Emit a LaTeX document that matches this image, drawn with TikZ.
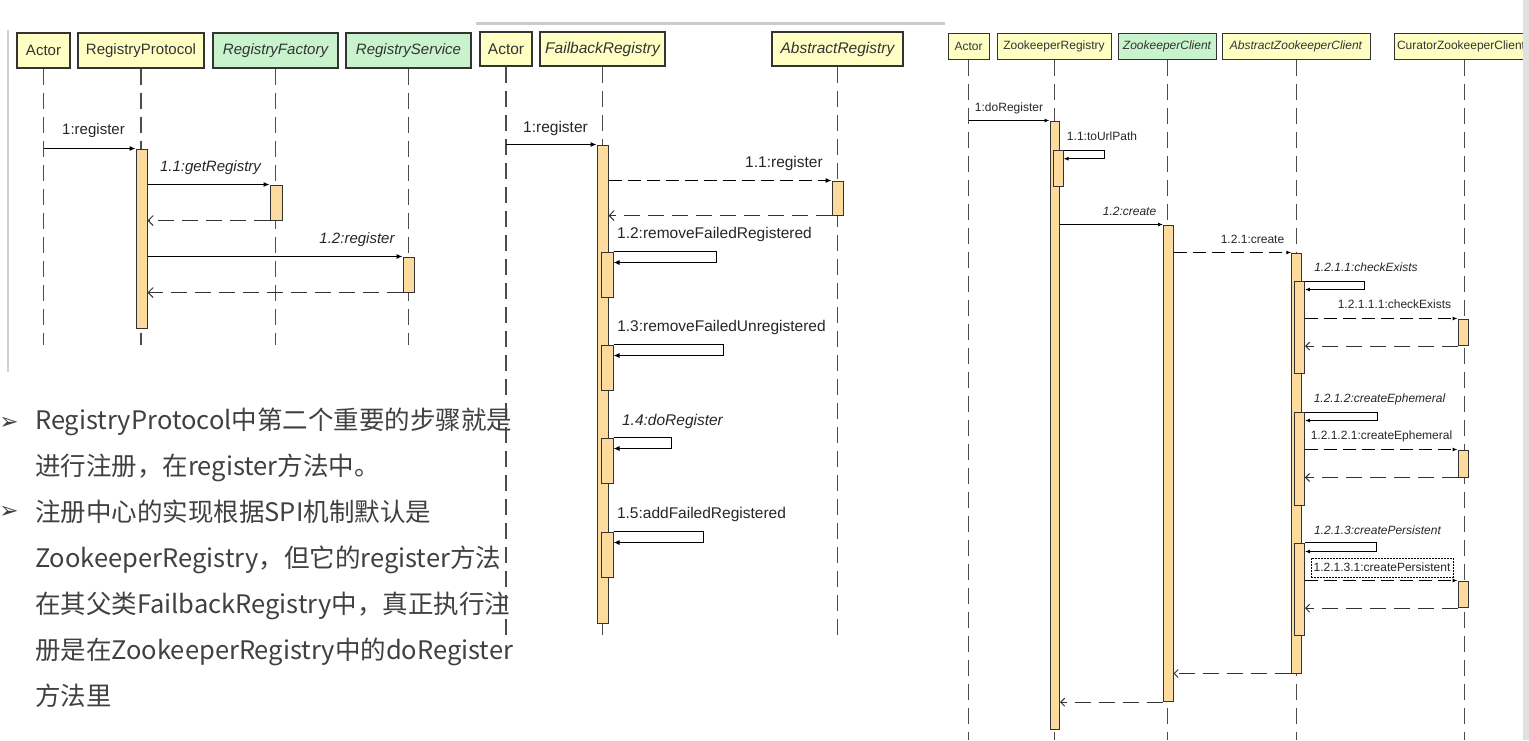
\documentclass[tikz,border=0pt]{standalone}
\usepackage{fontspec}
\setmainfont{Liberation Sans}
\newfontfamily\cjkfont{Noto Sans CJK SC}
\newfontfamily\symfont{DejaVu Sans}
\usetikzlibrary{arrows.meta}
\definecolor{hdrylw}{RGB}{255,255,196}
\definecolor{hdrgrn}{RGB}{200,243,204}
\definecolor{actfill}{RGB}{253,218,158}
\definecolor{edge}{RGB}{51,51,51}
\definecolor{bodytxt}{RGB}{64,64,64}

\begin{document}
\begin{tikzpicture}[x=1pt,y=-1pt,
  hdr/.style={draw=edge,line width=1.3pt,fill=hdrylw,inner sep=0pt,text=black!80},
  ifc/.style={hdr,fill=hdrgrn},
  life/.style={draw=black!70,line width=1.1pt,dash pattern=on 16pt off 8pt},
  act/.style={draw=edge,line width=1pt,fill=actfill,inner sep=0pt,minimum width=11pt},
  call/.style={draw=black,line width=1pt,-{Latex[length=6pt,width=5pt]}},
  dcall/.style={call,dash pattern=on 13pt off 6pt},
  ret/.style={draw=black!80,line width=1pt,dash pattern=on 16pt off 8pt,-{Straight Barb[length=5pt,width=10pt]}},
  msg/.style={inner sep=0pt,text=black!85},
  txt/.style={inner sep=0pt,align=left,text=bodytxt,font=\cjkfont\fontsize{25.5}{46}\selectfont},
  bul/.style={inner sep=0pt,text=bodytxt,font=\symfont\fontsize{23}{23}\selectfont}]

  \useasboundingbox (0,0) rectangle (1529,740);
  \draw[line width=2pt,draw=black!18] (8,30) -- (8,372);
  \draw[line width=3pt,draw=black!20] (476,23) -- (945,23);

  \begin{scope}[font=\fontsize{15}{18}\selectfont]
    \node[hdr,minimum width=53pt,minimum height=35pt] (d1actor) at (43.5,50.5) {Actor};
    \node[hdr,minimum width=126pt,minimum height=35pt] (d1proto) at (141,50.5) {RegistryProtocol};
    \node[ifc,minimum width=125pt,minimum height=35pt] (d1fact) at (275.5,50.5) {\itshape RegistryFactory};
    \node[ifc,minimum width=125pt,minimum height=35pt] (d1serv) at (408.5,50.5) {\itshape RegistryService};
    \foreach \h in {d1actor,d1proto,d1fact,d1serv}
      \draw[life] (\h.south) -- (\h.south |- 0,345);
    \node[act,minimum height=179pt] (d1protoA) at (141.5,238.5) {};
    \node[act,minimum width=12pt,minimum height=35pt] (d1factA) at (276,202.5) {};
    \node[act,minimum height=35pt] (d1servA) at (408.5,274.5) {};
    \draw[call] (d1actor |- d1protoA.north) -- (d1protoA.north west);
    \draw[call] (d1protoA.east |- d1factA.north) -- (d1factA.north west);
    \draw[ret] (d1factA.south west) -- (d1protoA.east |- d1factA.south);
    \draw[call] (d1protoA.east |- d1servA.north) -- (d1servA.north west);
    \draw[ret] (d1servA.south west) -- (d1protoA.east |- d1servA.south);
    \node[msg] (d1m1) at (93.5,131) {1:register};
    \node[msg] (d1m2) at (210.5,168) {\itshape 1.1:getRegistry};
    \node[msg] (d1m3) at (357,240) {\itshape 1.2:register};
  \end{scope}

  \begin{scope}[font=\fontsize{15.5}{18}\selectfont]
    \node[hdr,minimum width=52pt,minimum height=34pt] (d2actor) at (506,49) {Actor};
    \node[hdr,minimum width=125pt,minimum height=34pt] (d2fail) at (602.5,49) {\itshape FailbackRegistry};
    \node[hdr,minimum width=131pt,minimum height=34pt] (d2abst) at (837.5,49) {\itshape AbstractRegistry};
    \foreach \h in {d2actor,d2fail,d2abst}
      \draw[life] (\h.south) -- (\h.south |- 0,640);
    \node[act,minimum height=478pt] (d2failA) at (602.5,384) {};
    \node[act,minimum height=34pt] (d2abstA) at (837.5,198) {};
    \node[act,minimum width=12pt,minimum height=45pt] (d2failB) at (607,274.5) {};
    \node[act,minimum width=12pt,minimum height=45pt] (d2failC) at (607,367.5) {};
    \node[act,minimum width=12pt,minimum height=45pt] (d2failD) at (607,460.5) {};
    \node[act,minimum width=12pt,minimum height=45pt] (d2failE) at (607,554.5) {};
    \draw[call] (d2actor |- d2failA.north) -- (d2failA.north west);
    \draw[dcall] (d2failA.east |- d2abstA.north) -- (d2abstA.north west);
    \draw[ret] (d2abstA.south west) -- (d2failA.east |- d2abstA.south);
    \foreach \n/\w in {d2failB/103,d2failC/110,d2failD/58,d2failE/90}
      \draw[call] (\n.north east) -- ++(\w,0) -- ++(0,11) -- ++(-\w,0);
    \node[msg] (d2m1) at (555.5,128) {1:register};
    \node[msg] (d2m2) at (784,163) {1.1:register};
    \node[msg] (d2m3) at (714.5,234) {1.2:removeFailedRegistered};
    \node[msg] (d2m4) at (721.5,327) {1.3:removeFailedUnregistered};
    \node[msg] (d2m5) at (672.5,421) {\itshape 1.4:doRegister};
    \node[msg] (d2m6) at (701.5,514) {1.5:addFailedRegistered};
  \end{scope}

  \begin{scope}[font=\fontsize{12}{14}\selectfont,
      hdr/.append style={line width=1pt},
      life/.append style={line width=1pt},
      act/.append style={minimum width=9.5pt},
      call/.append style={-{Latex[length=5pt,width=4pt]}},
      ret/.append style={-{Straight Barb[length=4pt,width=8pt]}}]
    \node[hdr,minimum width=41pt,minimum height=26pt] (d3actor) at (968.5,46) {Actor};
    \node[hdr,minimum width=114pt,minimum height=26pt] (d3zkreg) at (1054,46) {ZookeeperRegistry};
    \node[ifc,minimum width=98pt,minimum height=26pt] (d3zkcli) at (1167,46) {\itshape ZookeeperClient};
    \node[hdr,minimum width=148pt,minimum height=26pt] (d3abst) at (1296,46) {\itshape AbstractZookeeperClient};
    \node[hdr,minimum width=140pt,minimum height=26pt,text width=134pt,align=left] (d3cur) at (1464,46) {CuratorZookeeperClient};
    \foreach \h in {d3actor,d3zkreg,d3zkcli,d3abst,d3cur}
      \draw[life] (\h.south) -- (\h.south |- 0,740);
    \node[act,minimum height=608pt] (d3zkregA) at (1054.75,425) {};
    \node[act,minimum height=36pt] (d3zkregB) at (1058.25,168.7) {};
    \node[act,minimum height=476.7pt] (d3zkcliA) at (1168.25,463.35) {};
    \node[act,minimum height=420pt] (d3abstA) at (1296.5,463) {};
    \node[act,minimum height=91.3pt] (d3abstB) at (1299.7,327.35) {};
    \node[act,minimum height=92.3pt] (d3abstC) at (1299.7,458.85) {};
    \node[act,minimum height=92.7pt] (d3abstD) at (1299.7,589.35) {};
    \node[act,minimum width=10.5pt,minimum height=26.7pt] (d3curA) at (1463.25,332.35) {};
    \node[act,minimum width=10.5pt,minimum height=27pt] (d3curB) at (1463.25,463.5) {};
    \node[act,minimum width=10.5pt,minimum height=26.7pt] (d3curC) at (1463.25,594.35) {};
    \draw[call] (d3actor |- d3zkregA.north) -- (d3zkregA.north west);
    \draw[call] (d3zkregA.east |- d3zkcliA.north) -- (d3zkcliA.north west);
    \draw[dcall] (d3zkcliA.east |- d3abstA.north) -- (d3abstA.north west);
    \foreach \n/\w/\d in {d3zkregB/41/8.5,d3abstB/60/8.3,d3abstC/72.6/8.3,d3abstD/71.6/9}
      \draw[call] (\n.north east) -- ++(\w,0) -- ++(0,\d) -- ++(-\w,0);
    \foreach \s/\c in {d3abstB/d3curA,d3abstC/d3curB,d3abstD/d3curC} {
      \draw[dcall] (\s.east |- \c.north) -- (\c.north west);
      \draw[ret] (\c.south west) -- (\s.east |- \c.south);
    }
    \draw[ret] (d3abstA.south west) -- (d3zkcliA.east |- d3abstA.south);
    \draw[ret] (d3zkcliA.south west) -- (d3zkregA.east |- d3zkcliA.south);
    \node[msg] (d3m1) at (1009,108) {1:doRegister};
    \node[msg] (d3m2) at (1102,136) {1.1:toUrlPath};
    \node[msg] (d3m3) at (1129.5,211) {\itshape 1.2:create};
    \node[msg] (d3m4) at (1252.5,239) {1.2.1:create};
    \node[msg] (d3m5) at (1366,267) {\itshape 1.2.1.1:checkExists};
    \node[msg] (d3m6) at (1394.5,304) {1.2.1.1.1:checkExists};
    \node[msg] (d3m7) at (1379.5,399) {\itshape 1.2.1.2:createEphemeral};
    \node[msg] (d3m8) at (1381.5,436) {1.2.1.2.1:createEphemeral};
    \node[msg] (d3m9) at (1377.5,530) {\itshape 1.2.1.3:createPersistent};
    \node[msg,draw=black,line width=0.8pt,dash pattern=on 2pt off 1pt,fill=white,minimum width=142pt,minimum height=19pt] (d3m10) at (1382,567.5) {1.2.1.3.1:createPersistent};
  \end{scope}

  \node[bul] (b1) at (9,423) {➢};
  \node[txt,anchor=west] (t1) at (35,445) {RegistryProtocol中第二个重要的步骤就是\\进行注册，在register方法中。};
  \node[bul] (b2) at (9,512) {➢};
  \node[txt,anchor=west] (t2) at (35,604) {注册中心的实现根据SPI机制默认是\\ZookeeperRegistry，但它的register方法\\在其父类FailbackRegistry中，真正执行注\\册是在ZookeeperRegistry中的doRegister\\方法里};

  \fill[black!12] (1523,0) rectangle (1529,740);
\end{tikzpicture}
\end{document}
